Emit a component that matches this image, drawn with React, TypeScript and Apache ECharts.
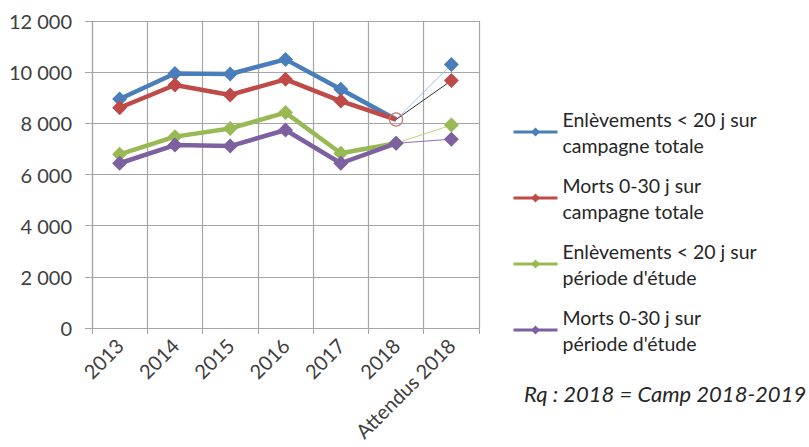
import React, { useEffect, useRef } from "react";
import * as echarts from "echarts";

const categories = ["2013", "2014", "2015", "2016", "2017", "2018", "Attendus 2018"];
const enlevTotal = [8950, 9950, 9930, 10500, 9330, 8150, 10300];
const mortsTotal = [8610, 9500, 9110, 9720, 8870, 8150, 9670];
const enlevEtude = [6790, 7480, 7800, 8420, 6830, 7220, 7930];
const mortsEtude = [6440, 7150, 7110, 7740, 6440, 7220, 7380];
const seriesNames = [
  "Enlèvements < 20 j sur\ncampagne totale",
  "Morts 0-30 j sur\ncampagne totale",
  "Enlèvements < 20 j sur\npériode d'étude",
  "Morts 0-30 j sur\npériode d'étude",
];
const yTicks = [0, 2000, 4000, 6000, 8000, 10000, 12000];
const note = "Rq : 2018 = Camp 2018-2019";

const FONT = "Lato";
const colors = ["#4A7EBB", "#BE4B48", "#98B954", "#7D60A0"];
const segColors = ["#9DC3E6", "#333333", "#B5D67A", "#8E72B4"];

function fmt(v: number) {
  return String(v).replace(/\B(?=(\d{3})+(?!\d))/g, " ");
}

export default function App() {
  const ref = useRef<HTMLDivElement>(null);
  useEffect(() => {
    if (!ref.current) return;
    const chart = echarts.init(ref.current, undefined, { renderer: "svg" });
    const all = [enlevTotal, mortsTotal, enlevEtude, mortsEtude];
    const main = all.map((vals, i) => ({
      name: seriesNames[i],
      type: "line",
      symbol: "diamond",
      symbolSize: 15,
      z: 3 + i,
      lineStyle: { width: 4.5, color: colors[i] },
      itemStyle: { color: colors[i] },
      data: vals.map((v, j) => {
        if (j === 6) return null;
        if (j === 5 && i === 0) return { value: v, symbol: "none" };
        if (j === 5 && i === 1)
          return {
            value: v,
            symbol: "circle",
            symbolSize: 13,
            itemStyle: { color: "rgba(255,255,255,0)", borderColor: "#C07878", borderWidth: 1.2 },
          };
        return v;
      }),
    }));
    const segs = all.map((vals, i) => ({
      name: "seg" + i,
      type: "line",
      symbol: "diamond",
      symbolSize: 15,
      z: 2,
      lineStyle: { width: 1, color: segColors[i] },
      itemStyle: { color: colors[i] },
      data: vals.map((v, j) => {
        if (j < 5) return null;
        if (j === 5) return { value: v, symbol: "none" };
        return v;
      }),
    }));
    chart.setOption({
      animation: false,
      textStyle: { fontFamily: FONT },
      grid: { left: 92, right: 330, top: 21, bottom: 119 },
      legend: {
        data: seriesNames,
        orient: "vertical",
        left: 507,
        top: 88,
        itemWidth: 44,
        itemHeight: 11,
        itemGap: -12,
        lineStyle: { width: 3 },
        textStyle: {
          fontFamily: FONT,
          fontSize: 19.5,
          color: "#262626",
          lineHeight: 26,
          padding: [26, 0, 0, 0],
        },
      },
      xAxis: {
        type: "category",
        data: categories,
        boundaryGap: true,
        axisLine: { lineStyle: { color: "#A6A6A6", width: 1.2 } },
        axisTick: { show: true, length: 6, lineStyle: { color: "#A6A6A6" } },
        splitLine: { show: true, lineStyle: { color: "#A6A6A6", width: 1.2 } },
        axisLabel: {
          rotate: 45,
          margin: 14,
          fontSize: 20,
          fontFamily: FONT,
          color: "#404040",
          interval: 0,
        },
      },
      yAxis: {
        type: "value",
        min: yTicks[0],
        max: yTicks[yTicks.length - 1],
        interval: 2000,
        axisLine: { show: true, lineStyle: { color: "#A6A6A6", width: 1.2 } },
        axisTick: { show: true, length: 7, lineStyle: { color: "#A6A6A6" } },
        splitLine: { show: true, lineStyle: { color: "#A6A6A6", width: 1.2 } },
        axisLabel: {
          margin: 20,
          fontSize: 20,
          fontFamily: FONT,
          color: "#404040",
          formatter: (v: number) => fmt(v),
        },
      },
      graphic: [
        {
          type: "text",
          left: 524,
          top: 382,
          style: {
            text: note,
            fontFamily: FONT,
            fontSize: 22,
            fontStyle: "italic",
            fill: "#262626",
          },
        },
      ],
      series: [...segs, ...main],
    });
    return () => chart.dispose();
  }, []);
  return (
    <div
      ref={ref}
      style={{ position: "absolute", left: 0, top: 0, width: 809, height: 447 }}
    />
  );
}
